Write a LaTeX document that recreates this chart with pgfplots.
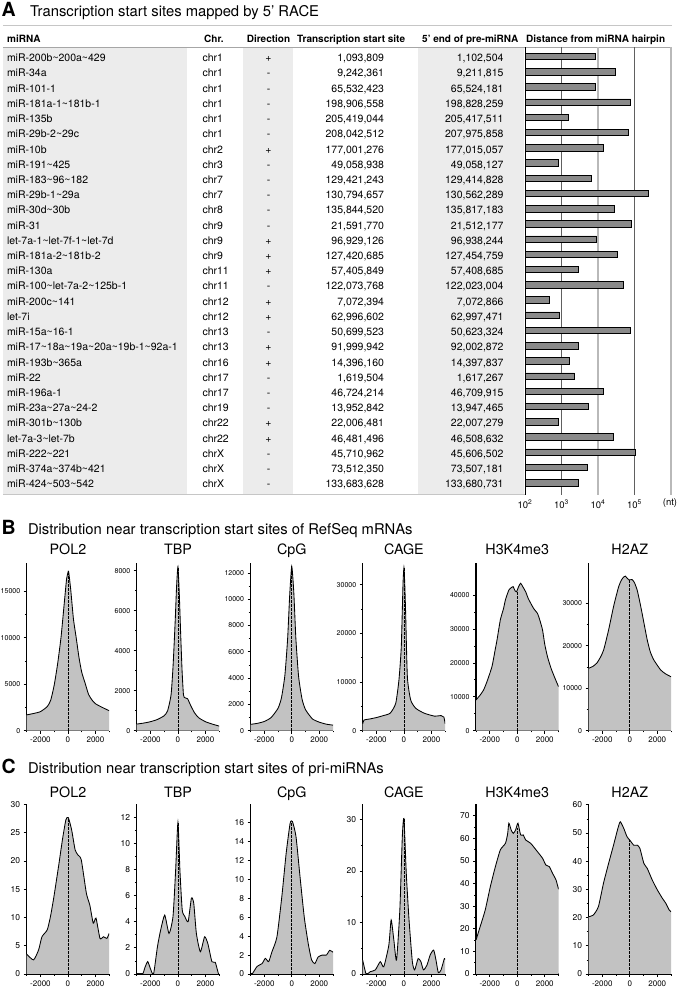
\documentclass[border=0pt]{standalone}
\usepackage{fontspec}
\setmainfont{TeX Gyre Heros}
\usepackage{pgfplots}
\usepackage{pgfplotstable}
\pgfplotsset{compat=1.18}
\newcommand\T{\textasciitilde}
\newcommand\fs[1]{\fontsize{#1bp}{#1bp}\selectfont}
\definecolor{colshade}{HTML}{ECECEC}
\definecolor{areagray}{HTML}{C2C2C2}
\definecolor{bargray}{HTML}{8A8A8A}

\pgfplotstableread{
i d
0 8695
-1 30546
-2 8242
-3 78299
-4 1533
-5 66654
-6 13781
-7 811
-8 6415
-9 232368
-10 27337
-11 79593
-12 9118
-13 34074
-14 2836
-15 50764
-16 472
-17 869
-18 76199
-19 2930
-20 1677
-21 2237
-22 14299
-23 5377
-24 798
-25 27136
-26 104460
-27 5169
-28 2897
}\tbars

% ---------- panel B ----------
\pgfplotstableread{
x y
-3000 1700
-2500 1850
-2000 2050
-1500 2600
-1250 3300
-1000 4900
-750 7200
-500 10100
-250 14000
-100 16300
0 17000
50 17100
200 15200
400 12000
600 10000
800 7900
1000 6300
1250 5100
1500 3900
1750 3300
2000 2900
2500 2500
3000 2150
}\bpol
\pgfplotstableread{
x y
-3000 330
-2500 380
-2000 450
-1500 560
-1000 750
-750 1000
-500 1800
-350 3300
-200 5500
-100 7200
0 8200
100 6800
200 4800
300 3000
400 1800
500 1650
700 1600
900 1300
1200 900
1500 650
2000 450
2500 330
3000 230
}\btbp
\pgfplotstableread{
x y
-3000 480
-2500 560
-2000 700
-1500 1000
-1000 1700
-750 2500
-500 4200
-300 7000
-150 10300
0 12500
150 10500
300 7000
500 4100
750 2400
1000 1600
1500 900
2000 650
2500 500
3000 420
}\bcpg
\pgfplotstableread{
x y
-3000 1400
-2900 2200
-2500 2400
-2000 2700
-1500 3100
-1000 3600
-600 5600
-365 10400
-195 17200
-70 30000
0 33500
60 30000
125 24000
250 11000
490 6300
860 4600
1470 3600
2210 3000
2700 3100
2900 2800
3000 1400
}\bcage
\pgfplotstableread{
x y
-3000 9050
-2700 10500
-2450 12000
-2200 14500
-1840 18900
-1600 24000
-1470 26800
-1230 32700
-1000 36000
-860 38600
-610 41500
-400 42300
-300 42500
-150 41200
-50 41000
100 42500
245 43500
400 42500
610 41000
800 39000
980 37600
1200 36000
1470 34600
1650 32500
1840 29700
2000 25500
2200 21800
2450 18500
2700 15900
3000 13000
}\bhthree
\pgfplotstableread{
x y
-3000 14700
-2700 15100
-2400 15900
-2150 17200
-1900 19000
-1540 23700
-1180 29200
-810 33900
-600 35500
-440 36200
-320 36400
-70 35500
170 35600
350 34800
540 33100
720 30500
900 27600
1270 21400
1500 18500
1760 16600
2250 14300
2600 13400
3000 12700
}\bhtwo

% ---------- panel C ----------
\pgfplotstableread{
x y
-3000 3.5
-2500 2.5
-2130 4.3
-1890 6.6
-1510 7.8
-1270 10.2
-1020 13.7
-650 19.6
-400 23.8
-150 27.3
25 27.7
270 25.5
520 22.0
720 21.1
970 20.2
1340 14.3
1590 12.2
1840 9.0
2040 9.9
2330 6.3
2580 6.6
2830 6.3
3000 7.2
}\cpol
\pgfplotstableread{
x y
-3000 0
-2570 0
-2400 0.5
-2200 0.95
-2000 0.4
-1775 0
-1490 2.1
-1250 3.4
-960 4.5
-650 3.1
-360 4.4
-170 7.9
0 11.6
145 7.9
310 4.9
500 4.4
740 4.0
980 5.8
1150 5.4
1340 3.1
1630 1.7
1940 2.85
2180 2.3
2470 0.94
2710 0.9
2950 0
3000 0
}\ctbp
\pgfplotstableread{
x y
-3000 0
-2880 0
-2520 0.8
-2160 1.1
-1920 1.65
-1680 1.3
-1440 2.35
-1080 3.9
-720 8.2
-410 12.7
-120 15.9
50 16.1
310 14.5
600 10.3
910 6.0
1200 3.2
1440 1.5
1680 1.1
1920 1.8
2230 2.0
2520 2.0
2760 2.5
3000 2.3
}\ccpg
\pgfplotstableread{
x y
-3000 2.7
-2750 0
-2450 0.45
-2080 0.8
-1720 2.4
-1470 1.4
-1100 5.6
-930 10.5
-735 6.6
-540 2.7
-300 12.4
-120 26.6
0 30.2
170 19.5
370 10.5
610 2.4
780 0.8
1030 3.0
1230 2.4
1420 0.8
1670 1.7
1910 3.7
2160 4.65
2330 2.7
2500 0.26
2700 0.8
2940 3.0
3000 2.8
}\ccage
\pgfplotstableread{
x y
-3000 15.0
-2700 20.9
-2330 28.3
-1960 38.6
-1590 47.5
-1230 54.9
-860 57.8
-700 62
-610 66.7
-440 63.7
-290 62.2
-120 63.7
50 66.7
245 61.5
440 61.5
610 59.3
980 57.8
1470 54.1
1840 51.2
2080 48.2
2330 47.5
2570 44.5
2820 41.6
3000 37.5
}\chthree
\pgfplotstableread{
x y
-3000 20.3
-2650 20.9
-2280 23.9
-1910 32.2
-1540 39.2
-1180 45.7
-860 51.7
-690 54.0
-440 51.7
-200 48.7
0 47.5
290 45.7
540 45.7
735 44.6
1030 39.2
1270 37.5
1640 33.3
2010 29.8
2380 26.8
2620 25.1
2870 22.7
3000 22.1
}\chtwo

\pgfplotsset{
  dist/.style={scale only axis, width=82.5bp, axis lines=left,
    axis line style={-, line width=1.1bp},
    xmin=-3000, xmax=3000, ymin=0,
    xtick={-2000,0,2000}, minor xtick={-3000,-1000,1000,3000},
    minor y tick num=1,
    tick align=outside, major tick length=3bp, minor tick length=1.8bp,
    tick style={black, line width=0.7bp},
    xticklabel style={font=\fs{8}},
    yticklabel style={font=\fs{8.5}},
    /pgf/number format/assume math mode=true,
    /pgf/number format/set thousands separator={},
    scaled y ticks=false,
    title style={at={(0.5,1)}, anchor=base, yshift=2bp, font=\fs{14.3}}},
  area/.style={fill=areagray, draw=none, smooth, tension=0.35},
  curve/.style={black, line width=0.85bp, smooth, tension=0.35},
  zero/.style={black, line width=0.8bp, dash pattern=on 2.5bp off 1.5bp},
}

\newcommand\row[6]{%
  \pgfmathsetmacro\yy{987-61.7-15.22*#1}%
  \node[anchor=base west] at (7bp,\yy bp) {#2};
  \node[anchor=base west] at (202.5bp,\yy bp) {#3};
  \node[anchor=base] at (268.5bp,\yy bp) {#4};
  \node[anchor=base east] at (384bp,\yy bp) {#5};
  \node[anchor=base east] at (503.5bp,\yy bp) {#6};
}

\begin{document}
\begin{tikzpicture}
\useasboundingbox (0bp,0bp) rectangle (679bp,987bp);

% ---------------- Panel A ----------------
\begin{scope}[x=1bp, y=1bp, every node/.style={inner sep=0pt, outer sep=0pt, font=\fs{10.5}}]
\node[anchor=base west, font=\bfseries\fs{19.5}] at (1.5,970) {A};
\node[anchor=base west, font=\fs{14.8}] at (30,970) {Transcription start sites mapped by 5’ RACE};

\fill[colshade] (3,492) rectangle (187,940);
\fill[colshade] (243,492) rectangle (293,940);
\fill[colshade] (418,492) rectangle (524,940);
\draw[gray!45, line width=1bp] (3,961) -- (672,961);
\draw[gray!70, line width=0.8bp] (3,940) -- (672,940);
\draw[gray!45, line width=1bp] (3,492) -- (525,492);

\begin{scope}[every node/.style={inner sep=0pt, font=\bfseries\fs{10}}]
\node[anchor=base west] at (7,944.5) {miRNA};
\node[anchor=base west] at (204,944.5) {Chr.};
\node[anchor=base] at (268.5,944.5) {Direction};
\node[anchor=base west] at (297,944.5) {Transcription start site};
\node[anchor=base west] at (422,944.5) {5’ end of pre-miRNA};
\node[anchor=base west] at (526,944.5) {Distance from miRNA hairpin};
\end{scope}

\row{0}{miR-200b\T{}200a\T{}429}{chr1}{+}{1,093,809}{1,102,504}
\row{1}{miR-34a}{chr1}{-}{9,242,361}{9,211,815}
\row{2}{miR-101-1}{chr1}{-}{65,532,423}{65,524,181}
\row{3}{miR-181a-1\T{}181b-1}{chr1}{-}{198,906,558}{198,828,259}
\row{4}{miR-135b}{chr1}{-}{205,419,044}{205,417,511}
\row{5}{miR-29b-2\T{}29c}{chr1}{-}{208,042,512}{207,975,858}
\row{6}{miR-10b}{chr2}{+}{177,001,276}{177,015,057}
\row{7}{miR-191\T{}425}{chr3}{-}{49,058,938}{49,058,127}
\row{8}{miR-183\T{}96\T{}182}{chr7}{-}{129,421,243}{129,414,828}
\row{9}{miR-29b-1\T{}29a}{chr7}{-}{130,794,657}{130,562,289}
\row{10}{miR-30d\T{}30b}{chr8}{-}{135,844,520}{135,817,183}
\row{11}{miR-31}{chr9}{-}{21,591,770}{21,512,177}
\row{12}{let-7a-1\T{}let-7f-1\T{}let-7d}{chr9}{+}{96,929,126}{96,938,244}
\row{13}{miR-181a-2\T{}181b-2}{chr9}{+}{127,420,685}{127,454,759}
\row{14}{miR-130a}{chr11}{+}{57,405,849}{57,408,685}
\row{15}{miR-100\T{}let-7a-2\T{}125b-1}{chr11}{-}{122,073,768}{122,023,004}
\row{16}{miR-200c\T{}141}{chr12}{+}{7,072,394}{7,072,866}
\row{17}{let-7i}{chr12}{+}{62,996,602}{62,997,471}
\row{18}{miR-15a\T{}16-1}{chr13}{-}{50,699,523}{50,623,324}
\row{19}{miR-17\T{}18a\T{}19a\T{}20a\T{}19b-1\T{}92a-1}{chr13}{+}{91,999,942}{92,002,872}
\row{20}{miR-193b\T{}365a}{chr16}{+}{14,396,160}{14,397,837}
\row{21}{miR-22}{chr17}{-}{1,619,504}{1,617,267}
\row{22}{miR-196a-1}{chr17}{-}{46,724,214}{46,709,915}
\row{23}{miR-23a\T{}27a\T{}24-2}{chr19}{-}{13,952,842}{13,947,465}
\row{24}{miR-301b\T{}130b}{chr22}{+}{22,006,481}{22,007,279}
\row{25}{let-7a-3\T{}let-7b}{chr22}{+}{46,481,496}{46,508,632}
\row{26}{miR-222\T{}221}{chrX}{-}{45,710,962}{45,606,502}
\row{27}{miR-374a\T{}374b\T{}421}{chrX}{-}{73,512,350}{73,507,181}
\row{28}{miR-424\T{}503\T{}542}{chrX}{-}{133,683,628}{133,680,731}

\node[font=\fs{9.5}] at (670,484) {(nt)};
\node[anchor=base west, font=\bfseries\fs{19.5}] at (1.5,452) {B};
\node[anchor=base west, font=\fs{14.8}] at (28,452) {Distribution near transcription start sites of RefSeq mRNAs};
\node[anchor=base west, font=\bfseries\fs{19.5}] at (1.5,213.5) {C};
\node[anchor=base west, font=\fs{14.8}] at (28,213.5) {Distribution near transcription start sites of pri-miRNAs};
\end{scope}

\begin{axis}[at={(525bp,492bp)}, anchor=south west, scale only axis,
  width=146bp, height=448bp, xmode=log, xmin=100, xmax=1e6,
  ymin=-28.81, ymax=0.624, log origin=infty,
  axis x line*=bottom, axis y line*=left,
  x axis line style={draw=none}, y axis line style={-, black, line width=0.8bp},
  xtick={100,1000,10000,100000},
  xticklabels={10\textsuperscript{2},10\textsuperscript{3},10\textsuperscript{4},10\textsuperscript{5}},
  xtick style={draw=none}, minor xtick={}, ytick=\empty,
  xticklabel style={font=\fs{9.5}, yshift=-1.5bp},
  clip=false]
\draw[gray!75!black, line width=0.6bp] (axis cs:1000,-28.81) -- (axis cs:1000,0.624);
\draw[gray!55, line width=1.3bp] (axis cs:10000,-28.81) -- (axis cs:10000,0.624);
\draw[gray!75!black, line width=0.6bp] (axis cs:100000,-28.81) -- (axis cs:100000,0.624);
\draw[gray!55, line width=1.3bp] (axis cs:1000000,-28.81) -- (axis cs:1000000,0.624);
\addplot[xbar, bar width=6.5bp, fill=bargray, draw=black, line width=0.7bp] table[x=d, y=i] {\tbars};
\end{axis}

% ---------------- Panel B ----------------
\begin{axis}[dist, at={(26.7bp,256.3bp)}, anchor=south west, height=168bp, ymax=18060,
  ytick={0,5000,10000,15000}, title={POL2}, yticklabel style={font=\fs{7}}]
\addplot[area] table {\bpol} \closedcycle;
\addplot[curve] table {\bpol};
\addplot[zero] coordinates {(0,0) (0,17000)};
\end{axis}
\begin{axis}[dist, at={(136.7bp,256.3bp)}, anchor=south west, height=168bp, ymax=8400,
  ytick={0,2000,4000,6000,8000}, title={TBP}, yticklabel style={font=\fs{7}}]
\addplot[area] table {\btbp} \closedcycle;
\addplot[curve] table {\btbp};
\addplot[zero] coordinates {(0,0) (0,8200)};
\end{axis}
\begin{axis}[dist, at={(250.5bp,256.3bp)}, anchor=south west, height=168bp, ymax=12775,
  ytick={0,2000,4000,6000,8000,10000,12000}, title={CpG}, yticklabel style={font=\fs{7}}]
\addplot[area] table {\bcpg} \closedcycle;
\addplot[curve] table {\bcpg};
\addplot[zero] coordinates {(0,0) (0,12500)};
\end{axis}
\begin{axis}[dist, at={(362.7bp,256.3bp)}, anchor=south west, height=168bp, ymax=34500,
  ytick={0,10000,20000,30000}, title={CAGE}, yticklabel style={font=\fs{7}}]
\addplot[area] table {\bcage} \closedcycle;
\addplot[curve] table {\bcage};
\addplot[zero] coordinates {(0,0) (0,33500)};
\end{axis}
\begin{axis}[dist, at={(476bp,256.3bp)}, anchor=south west, height=168bp, ymax=49560,
  ytick={0,10000,20000,30000,40000}, title={H3K4me3}, yticklabel style={font=\fs{7}}]
\addplot[area] table {\bhthree} \closedcycle;
\addplot[curve] table {\bhthree};
\addplot[zero] coordinates {(0,0) (0,41000)};
\end{axis}
\begin{axis}[dist, at={(588.5bp,256.3bp)}, anchor=south west, height=168bp, ymax=39560,
  ytick={0,10000,20000,30000}, title={H2AZ}, yticklabel style={font=\fs{7}}]
\addplot[area] table {\bhtwo} \closedcycle;
\addplot[curve] table {\bhtwo};
\addplot[zero] coordinates {(0,0) (0,35500)};
\end{axis}

% ---------------- Panel C ----------------
\begin{axis}[dist, at={(26.7bp,13bp)}, anchor=south west, height=170bp, ymax=30.1,
  ytick={0,5,10,15,20,25,30}, minor y tick num=0, title={POL2}, title style={yshift=-1bp}]
\addplot[area] table {\cpol} \closedcycle;
\addplot[curve] table {\cpol};
\addplot[zero] coordinates {(0,0) (0,27.6)};
\end{axis}
\begin{axis}[dist, at={(136.7bp,13bp)}, anchor=south west, height=170bp, ymax=13,
  ytick={0,2,4,6,8,10,12}, title={TBP}, title style={yshift=-1bp}]
\addplot[area] table {\ctbp} \closedcycle;
\addplot[curve] table {\ctbp};
\addplot[zero] coordinates {(0,0) (0,11.6)};
\end{axis}
\begin{axis}[dist, at={(250.5bp,13bp)}, anchor=south west, height=170bp, ymax=17.95,
  ytick={0,2,4,6,8,10,12,14,16,18}, minor y tick num=0, title={CpG}, title style={yshift=-1bp}]
\addplot[area] table {\ccpg} \closedcycle;
\addplot[curve] table {\ccpg};
\addplot[zero] coordinates {(0,0) (0,16)};
\end{axis}
\begin{axis}[dist, at={(362.7bp,13bp)}, anchor=south west, height=170bp, ymax=33,
  ytick={0,10,20,30}, title={CAGE}, title style={yshift=-1bp}]
\addplot[area] table {\ccage} \closedcycle;
\addplot[curve] table {\ccage};
\addplot[zero] coordinates {(0,0) (0,30.2)};
\end{axis}
\begin{axis}[dist, at={(476bp,13bp)}, anchor=south west, height=170bp, ymax=75.2,
  ytick={0,10,20,30,40,50,60,70}, title={H3K4me3}, title style={yshift=-1bp}]
\addplot[area] table {\chthree} \closedcycle;
\addplot[curve] table {\chthree};
\addplot[zero] coordinates {(0,0) (0,64.5)};
\end{axis}
\begin{axis}[dist, at={(588.5bp,13bp)}, anchor=south west, height=170bp, ymax=60.3,
  ytick={0,10,20,30,40,50,60}, title={H2AZ}, title style={yshift=-1bp}]
\addplot[area] table {\chtwo} \closedcycle;
\addplot[curve] table {\chtwo};
\addplot[zero] coordinates {(0,0) (0,47.5)};
\end{axis}
\end{tikzpicture}
\end{document}
